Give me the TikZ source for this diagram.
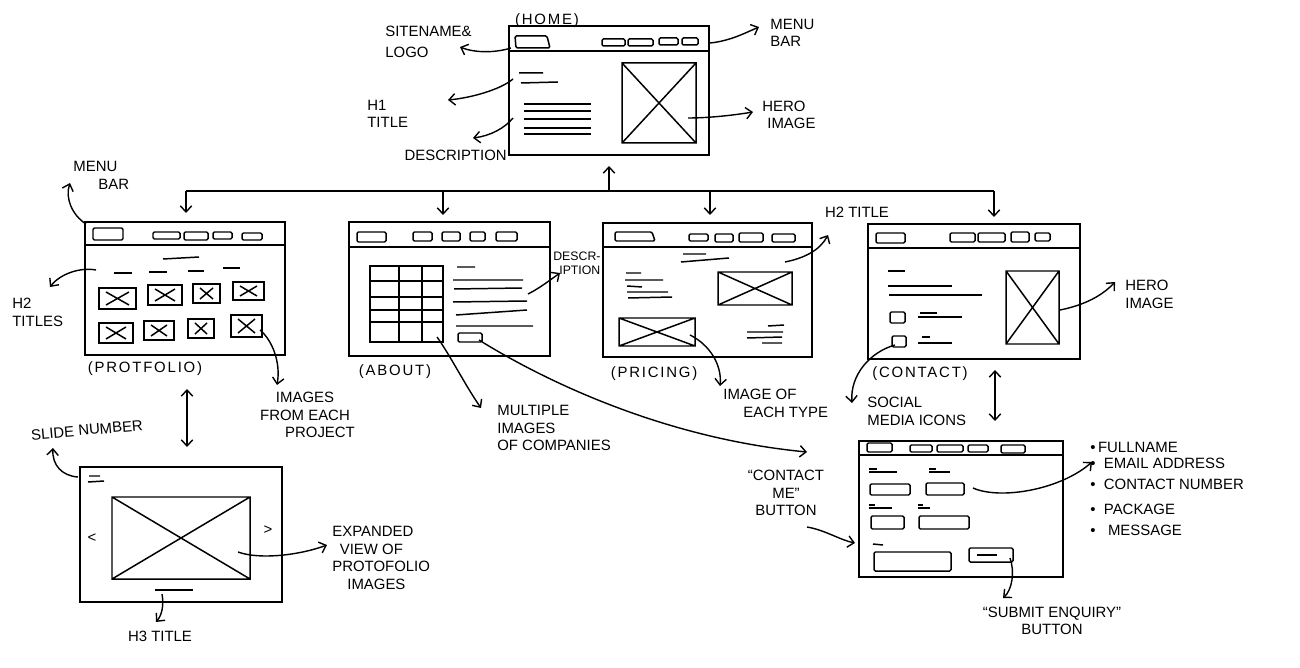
\documentclass[tikz,border=0pt]{standalone}
\usepackage{fontspec}
\setmainfont{Liberation Sans}
\usetikzlibrary{arrows.meta}
\newcommand\ximg[4]{\draw[ln] (#1,#2) rectangle (#3,#4) (#1,#2)--(#3,#4) (#1,#4)--(#3,#2);}
\begin{document}
\begin{tikzpicture}[x=0.02cm,y=-0.02cm,
 win/.style={line width=1.1pt},
 ln/.style={line width=0.85pt},
 bx/.style={line width=0.85pt, rounded corners=0.8pt},
 arr/.style={line width=0.8pt, -{Straight Barb[length=3.5pt,width=6.5pt]}},
 darr/.style={line width=0.8pt, {Straight Barb[length=3.5pt,width=6.5pt]}-{Straight Barb[length=3.5pt,width=6.5pt]}},
 lbl/.style={font=\fontsize{8.5}{10}\selectfont, inner sep=0pt, align=left},
 lblc/.style={lbl, align=center},
 pagel/.style={font=\fontsize{8.5}{10}\selectfont\addfontfeature{LetterSpace=12}, inner sep=0pt},
 small/.style={font=\fontsize{7}{8}\selectfont, inner sep=0pt, align=left}]
\useasboundingbox (0,0) rectangle (1300,668);
\fill[white] (0,0) rectangle (1300,668);

% ================= HOME =================
\draw[win] (509,26) rectangle (709,155);
\draw[win] (509,51) -- (709,51);
\draw[bx] (515,36) -- (547,36) -- (550,48) -- (516,48) -- cycle;
\draw[bx] (602,39) rectangle (625,46) (628,39) rectangle (653,46) (659,38) rectangle (678,45) (682,38) rectangle (698,45);
\draw[ln] (519,73)--(543,73) (521,83)--(558,82);
\foreach \y in {104,111,119,128,134} \draw[ln] (524,\y)--(591,\y);
\ximg{622}{63}{696}{143}
\node[pagel] (homel) at (547,21) {(HOME)};
\node[lbl, anchor=west] (logol) at (385,42) {SITENAME\&\\[2pt]LOGO};
\node[lbl, anchor=west] (menul) at (770,33) {MENU\\BAR};
\node[lbl, anchor=west] (h1l) at (367,114) {H1\\TITLE};
\node[lbl, anchor=east] (descl) at (507,155) {DESCRIPTION};
\node[lbl, anchor=west] (herol) at (762,115) {HERO\\\hspace*{0.1cm}IMAGE};
\coordinate (hlogo) at (511,48);
\coordinate (hlogoE) at (460,47);
\draw[arr] (hlogo) .. controls (495,53) and (475,53) .. (hlogoE);
\coordinate (hmenu) at (710,43);
\coordinate (hmenuE) at (759,27);
\draw[arr] (hmenu) .. controls (730,41) and (745,33) .. (hmenuE);
\coordinate (hh1) at (513,79);
\coordinate (hh1E) at (448,100);
\draw[arr] (hh1) .. controls (500,90) and (470,98) .. (hh1E);
\coordinate (hdesc) at (513,118);
\coordinate (hdescE) at (473,138);
\draw[arr] (hdesc) .. controls (505,128) and (490,136) .. (hdescE);
\coordinate (hhero) at (688,118);
\coordinate (hheroE) at (753,112);
\draw[arr] (hhero) .. controls (710,118) and (735,115) .. (hheroE);

% ================= TREE =================
\coordinate (tl) at (186,191);
\coordinate (tr) at (994,191);
\coordinate (homeb) at (609,166);
\draw[ln] (tl) -- (tr);
\draw[arr] (609,191) -- (homeb);
\coordinate (portt) at (186,213);
\coordinate (abtt) at (443,215);
\coordinate (prit) at (710,215);
\coordinate (cont) at (994,217);
\draw[arr] (tl) -- (portt);
\draw[arr] (443,191) -- (abtt);
\draw[arr] (710,191) -- (prit);
\draw[arr] (tr) -- (cont);

% ================= PORTFOLIO =================
\draw[win] (85,222) rectangle (285,355);
\draw[win] (85,245) -- (285,245);
\draw[bx] (93,228) rectangle (123,240);
\draw[bx] (153,232) rectangle (180,239) (184,232) rectangle (208,240) (213,232) rectangle (232,239) (242,233) rectangle (262,240);
\draw[ln] (163,259)--(199,257);
\draw[ln] (114,273)--(132,273) (149,272)--(167,272) (188,271)--(204,271) (223,268)--(240,268);
\draw[ln] (99,288) rectangle (136,309) (148,285) rectangle (182,305) (193,284) rectangle (220,303) (233,282) rectangle (264,300);
\draw[ln] (99,323) rectangle (133,343) (144,321) rectangle (174,340) (188,319) rectangle (214,338) (231,315) rectangle (262,337);
\foreach \a/\b/\c/\d in {99/288/136/309,148/285/182/305,193/284/220/303,233/282/264/300,99/323/133/343,144/321/174/340,188/319/214/338,231/315/262/337}
  \draw[ln] (\a+7,\b+4)--(\c-7,\d-4) (\a+7,\d-4)--(\c-7,\b+4);
\node[pagel] (portl) at (145,369) {(PROTFOLIO)};
\node[lbl, anchor=north west] (pmenul) at (73,161) {MENU\\\hspace*{0.5cm}BAR};
\node[lbl, anchor=north west] (ph2l) at (12,298) {H2\\TITLES};
\node[lblc] (pimgl) at (305,415) {IMAGES\\FROM EACH\\\hspace*{0.6cm}PROJECT};
\coordinate (pmenu) at (86,224);
\coordinate (pmenuE) at (70,183);
\draw[arr] (pmenu) .. controls (72,215) and (65,198) .. (pmenuE);
\coordinate (ph2) at (96,270);
\coordinate (ph2E) at (50,287);
\draw[arr] (ph2) .. controls (80,267) and (60,274) .. (ph2E);
\coordinate (pimg) at (260,330);
\coordinate (pimgE) at (277,385);
\draw[arr] (pimg) .. controls (272,340) and (281,362) .. (pimgE);
\coordinate (pdA) at (187,389);
\coordinate (pdB) at (187,447);
\draw[darr] (pdA) -- (pdB);

% ================= SLIDE =================
\draw[win] (80,467) rectangle (282,602);
\draw[ln] (89,476)--(100,476) (88,482)--(104,481);
\ximg{112}{497}{250}{579}
\node[lbl] (prevl) at (92,538) {\textless};
\node[lbl] (nextl) at (268,530) {\textgreater};
\draw[ln] (155,590)--(193,590);
\node[lbl, rotate=5] (slidel) at (87,430) {SLIDE NUMBER};
\node[lbl, anchor=north west] (expl) at (332,526) {EXPANDED\\\hspace*{0.15cm}VIEW OF\\PROTOFOLIO\\\hspace*{0.3cm}IMAGES};
\node[lbl] (h3l) at (160,636) {H3 TITLE};
\coordinate (snum) at (78,477);
\coordinate (snumE) at (53,448);
\draw[arr] (snum) .. controls (62,476) and (52,465) .. (snumE);
\coordinate (sexp) at (238,552);
\coordinate (sexpE) at (327,545);
\draw[arr] (sexp) .. controls (260,560) and (300,555) .. (sexpE);
\coordinate (sh3) at (162,594);
\coordinate (sh3E) at (156,622);
\draw[arr] (sh3) .. controls (164,605) and (162,615) .. (sh3E);

% ================= ABOUT =================
\draw[win] (349,222) rectangle (550,356);
\draw[win] (349,247) -- (550,247);
\draw[bx] (357,232) rectangle (386,242);
\draw[bx] (413,232) rectangle (432,241) (442,232) rectangle (460,241) (470,232) rectangle (485,241) (496,232) rectangle (517,241);
\draw[ln] (370,266) rectangle (443,342);
\draw[ln] (399,266)--(399,342) (422,266)--(422,342);
\foreach \y in {281,297,310,322} \draw[ln] (370,\y)--(443,\y);
\draw[ln] (457,267)--(475,267) (453,280)--(523,280) (454,289)--(522,288) (453,302)--(527,301) (456,315)--(527,310) (456,326)--(533,326);
\draw[bx] (458,333) rectangle (482,342);
\node[pagel] (aboutl) at (395,372) {(ABOUT)};
\node[small, anchor=north west] (adescl) at (553,252) {DESCR-\\\hspace*{0.12cm}IPTION};
\node[lbl, anchor=north west] (amultl) at (497,405) {MULTIPLE\\IMAGES\\OF COMPANIES};
\coordinate (adesc) at (528,294);
\coordinate (adescE) at (560,273);
\draw[arr] (adesc) .. controls (540,288) and (550,280) .. (adescE);
\coordinate (amult) at (437,337);
\coordinate (amultE) at (481,408);
\draw[arr] (amult) .. controls (450,355) and (465,385) .. (amultE);
\coordinate (abtn) at (479,340);
\coordinate (abtnE) at (807,452);
\draw[arr] (abtn) .. controls (540,378) and (660,438) .. (abtnE);

% ================= PRICING =================
\draw[win] (603,223) rectangle (812,357);
\draw[win] (603,247) -- (812,247);
\draw[bx] (615,232) -- (652,232) -- (655,241) -- (615,241) -- cycle;
\draw[bx] (689,234) rectangle (708,241) (715,234) rectangle (733,242) (739,233) rectangle (763,242) (772,234) rectangle (795,242);
\draw[ln] (683,254)--(706,254) (681,262)--(729,258);
\draw[ln] (626,273)--(641,273) (625,280)--(663,280) (627,286)--(642,287) (627,292)--(668,292) (628,298)--(672,297);
\ximg{718}{272}{792}{305}
\ximg{619}{318}{695}{346}
\draw[ln] (768,326)--(784,325) (747,332)--(783,332) (747,338)--(782,337) (762,343)--(782,343);
\node[pagel] (pricel) at (654,374) {(PRICING)};
\node[lbl] (ph2tl) at (857,212) {H2 TITLE};
\node[lbl, anchor=north west] (peachl) at (723,389) {IMAGE OF\\\hspace*{0.4cm}EACH TYPE};
\coordinate (pt) at (785,262);
\coordinate (ptE) at (828,235);
\draw[arr] (pt) .. controls (805,258) and (820,250) .. (ptE);
\coordinate (pimg2) at (690,335);
\coordinate (pimg2E) at (720,386);
\draw[arr] (pimg2) .. controls (710,345) and (722,365) .. (pimg2E);

% ================= CONTACT =================
\draw[win] (868,224) rectangle (1080,359);
\draw[win] (868,248) -- (1080,248);
\draw[bx] (876,233) rectangle (905,243);
\draw[bx] (950,233) rectangle (975,242) (978,233) rectangle (1005,242) (1011,232) rectangle (1029,242) (1035,233) rectangle (1050,241);
\draw[ln] (888,271)--(905,271) (888,286)--(952,286) (889,295)--(982,295);
\draw[bx] (890,312) rectangle (905,323) (892,336) rectangle (906,347);
\draw[ln] (920,313)--(937,313) (918,317)--(962,317) (922,337)--(930,337) (918,343)--(952,343);
\ximg{1006}{271}{1059}{344}
\node[pagel] (contl) at (920,374) {(CONTACT)};
\node[lbl, anchor=north west] (socl) at (867,397) {SOCIAL\\MEDIA ICONS};
\node[lbl, anchor=north west] (cherol) at (1125,280) {HERO\\IMAGE};
\coordinate (chero) at (1060,310);
\coordinate (cheroE) at (1115,282);
\draw[arr] (chero) .. controls (1080,306) and (1100,298) .. (cheroE);
\coordinate (csoc) at (895,345);
\coordinate (csocE) at (852,403);
\draw[arr] (csoc) .. controls (870,352) and (850,375) .. (csocE);
\coordinate (cdA) at (995,370);
\coordinate (cdB) at (995,421);
\draw[darr] (cdA) -- (cdB);

% ================= FORM =================
\draw[win] (859,441) rectangle (1063,577);
\draw[win] (859,455) -- (1063,455);
\draw[bx] (867,443) rectangle (892,452);
\draw[bx] (910,445) rectangle (932,452) (937,445) rectangle (963,452) (968,445) rectangle (988,452) (1001,445) rectangle (1025,453);
\draw[ln] (869,469)--(877,469) (869,472)--(897,472) (929,469)--(936,469) (929,472)--(950,472);
\draw[bx] (870,484) rectangle (910,495) (926,483) rectangle (964,495);
\draw[ln] (869,505)--(875,505) (869,508)--(892,508) (918,505)--(923,505) (918,508)--(930,508);
\draw[bx] (871,516) rectangle (904,529) (919,516) rectangle (969,529);
\draw[ln] (873,544)--(883,545);
\draw[bx] (874,552) rectangle (951,571);
\draw[bx] (969,548) rectangle (1013,562);
\draw[ln] (977,555)--(997,555);
\node[lblc] (cmel) at (786,493) {``CONTACT\\ME''\\BUTTON};
\node[lblc] (subl) at (1052,621) {``SUBMIT ENQUIRY''\\BUTTON};
\node[lbl, anchor=north west] (listl) at (1090,442) {\textbullet\,FULLNAME\\[-1pt]\textbullet\ \ EMAIL ADDRESS\\[2pt]\textbullet\ \ CONTACT NUMBER\\[4pt]\textbullet\ \ PACKAGE\\[2pt]\textbullet\ \ \ MESSAGE};
\coordinate (flist) at (973,488);
\coordinate (flistE) at (1092,462);
\draw[arr] (flist) .. controls (1000,500) and (1060,490) .. (flistE);
\coordinate (fsub) at (1010,558);
\coordinate (fsubE) at (1003,598);
\draw[arr] (fsub) .. controls (1015,572) and (1012,590) .. (fsubE);
\coordinate (fcme) at (807,527);
\coordinate (fcmeE) at (855,543);
\draw[arr] (fcme) .. controls (825,530) and (840,540) .. (fcmeE);
\end{tikzpicture}
\end{document}
